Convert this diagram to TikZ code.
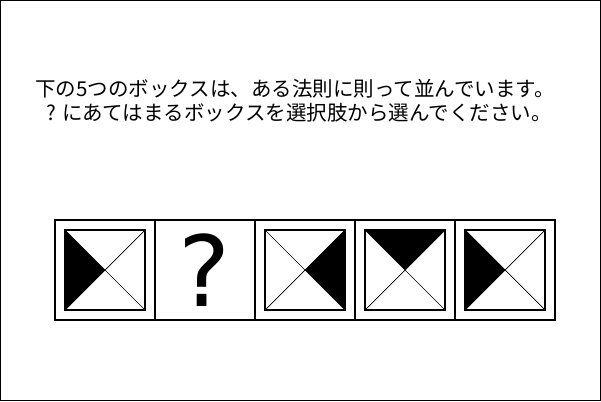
\documentclass[tikz,border=0pt]{standalone}
\usepackage{fontspec}
\newfontfamily\cjk{Noto Sans CJK JP}
\newfontfamily\qfont{DejaVu Sans}
\begin{document}
\begin{tikzpicture}[x=1pt,y=-1pt,
  cell/.style={draw,line width=1.2pt,minimum size=100pt,inner sep=0pt,outer sep=0pt},
  tile/.style={draw,line width=1.5pt,minimum size=80pt,inner sep=0pt,outer sep=0pt},
  diag/.style={line width=0.7pt},
  txt/.style={font=\cjk\fontsize{20.5}{23}\selectfont,inner sep=0pt}]
\useasboundingbox (0,0) rectangle (601,401);
\draw[line width=1pt] (0.5,0.5) rectangle (600.5,400.5);
\node[txt] (l1) at (295,89) {下の5つのボックスは、ある法則に則って並んでいます。};
\node[txt] (l2) at (299,112.5) {? にあてはまるボックスを選択肢から選んでください。};
\foreach \i/\x in {1/105,2/205,3/305,4/405,5/505}{
  \node[cell] (c\i) at (\x,270) {};
}
\node[font=\qfont\fontsize{98}{100}\selectfont,inner sep=0pt] (q) at (c2) {?};
% tiles
\foreach \i in {1,3,4,5}{
  \node[tile] (t\i) at (c\i) {};
}
\fill (t1.north west) -- (t1.center) -- (t1.south west) -- cycle;
\fill (t3.north east) -- (t3.center) -- (t3.south east) -- cycle;
\fill (t4.north west) -- (t4.center) -- (t4.north east) -- cycle;
\fill (t5.north west) -- (t5.center) -- (t5.south west) -- cycle;
\foreach \i in {1,3,4,5}{
  \draw[diag] (t\i.north west) -- (t\i.south east);
  \draw[diag] (t\i.north east) -- (t\i.south west);
  \node[tile] at (t\i) {};
}
\end{tikzpicture}
\end{document}
